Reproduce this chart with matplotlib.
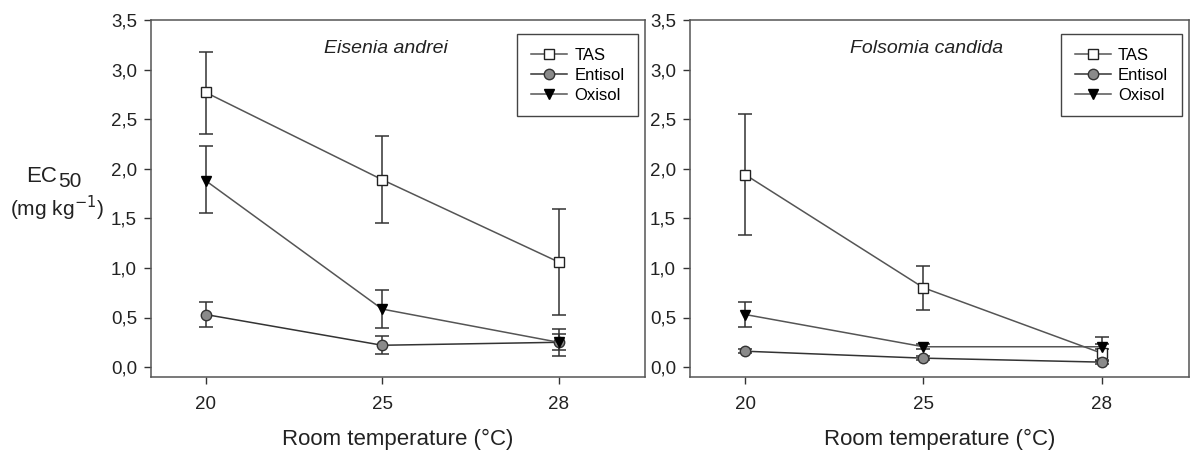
import numpy as np
import matplotlib.pyplot as plt
from matplotlib.ticker import FuncFormatter

plt.rcParams['font.family'] = ['Liberation Sans', 'DejaVu Sans']

temps = ["20", "25", "28"]
series = ["TAS", "Entisol", "Oxisol"]

# EC50 with lower / upper confidence limits, per species and soil
ea_tas = [2.77, 1.89, 1.06]
ea_tas_lo = [2.35, 1.45, 0.53]
ea_tas_hi = [3.18, 2.33, 1.59]
ea_ent = [0.53, 0.22, 0.25]
ea_ent_lo = [0.40, 0.13, 0.17]
ea_ent_hi = [0.66, 0.31, 0.33]
ea_oxi = [1.88, 0.585, 0.25]
ea_oxi_lo = [1.55, 0.39, 0.11]
ea_oxi_hi = [2.23, 0.78, 0.38]

fc_tas = [1.94, 0.80, 0.14]
fc_tas_lo = [1.33, 0.58, 0.06]
fc_tas_hi = [2.55, 1.02, 0.30]
fc_ent = [0.16, 0.09, 0.05]
fc_ent_lo = [0.14, 0.07, 0.03]
fc_ent_hi = [0.18, 0.11, 0.07]
fc_oxi = [0.53, 0.205, 0.205]
fc_oxi_lo = [0.40, 0.18, 0.18]
fc_oxi_hi = [0.66, 0.23, 0.23]

panels = [
    ("Eisenia andrei",
     [(ea_tas, ea_tas_lo, ea_tas_hi), (ea_ent, ea_ent_lo, ea_ent_hi), (ea_oxi, ea_oxi_lo, ea_oxi_hi)]),
    ("Folsomia candida",
     [(fc_tas, fc_tas_lo, fc_tas_hi), (fc_ent, fc_ent_lo, fc_ent_hi), (fc_oxi, fc_oxi_lo, fc_oxi_hi)]),
]

styles = [
    dict(marker="s", mfc="white", mec="#222222", ms=6.5, color="#555555"),
    dict(marker="o", mfc="#8a8a8a", mec="#333333", ms=7.5, color="#333333"),
    dict(marker="v", mfc="black", mec="black", ms=7.5, color="#555555"),
]

fig = plt.figure(figsize=(11.9, 4.53), dpi=100)
rects = [[151 / 1190, 76 / 453, 494 / 1190, 357 / 453],
         [690 / 1190, 76 / 453, 499 / 1190, 357 / 453]]

x = np.arange(len(temps))
comma = FuncFormatter(lambda v, p: f"{v:.1f}".replace(".", ","))

for rect, (title, data) in zip(rects, panels):
    ax = fig.add_axes(rect)
    for name, (vals, lo, hi), st in zip(series, data, styles):
        vals = np.array(vals)
        yerr = np.vstack([vals - np.array(lo), np.array(hi) - vals])
        ax.errorbar(x, vals, yerr=yerr, fmt="none", ecolor="#333333",
                    elinewidth=1.1, capsize=5, capthick=1.1, zorder=2)
        ax.plot(x, vals, lw=1.1, label=name, zorder=3,
                marker=st["marker"], mfc=st["mfc"], mec=st["mec"],
                ms=st["ms"], color=st["color"], mew=1.0)
    ax.set_xlim(-0.31, 2.49)
    ax.set_ylim(-0.1, 3.5)
    ax.set_xticks(x)
    ax.set_xticklabels(temps)
    ax.set_yticks(np.arange(0, 3.51, 0.5))
    ax.yaxis.set_major_formatter(comma)
    ax.tick_params(direction="out", length=5, width=1, colors="#333333",
                   labelsize=13.5, labelcolor="#222222", pad=5)
    ax.tick_params(axis="x", pad=9)
    for sp in ax.spines.values():
        sp.set_color("#555555")
        sp.set_linewidth(1.1)
    ax.set_xlabel("Room temperature (°C)", fontsize=16, labelpad=11, color="#222222")
    ax.text(0.475, 0.92, title, transform=ax.transAxes, style="italic",
            fontsize=14, ha="center", va="center", color="#222222")
    leg = ax.legend(loc="upper right", bbox_to_anchor=(0.985, 0.96),
                    borderaxespad=0, fancybox=False, fontsize=12,
                    handlelength=2.2, labelspacing=0.3, handletextpad=0.4,
                    borderpad=0.8, framealpha=1)
    leg.get_frame().set_edgecolor("#444444")
    leg.get_frame().set_linewidth(1.0)

# y-axis label: EC with a full-size, lowered "50"
fig.text(57 / 1190, 1 - 182 / 453, "EC", fontsize=16, ha="right",
         va="baseline", color="#222222")
fig.text(58 / 1190, 1 - 187 / 453, "50", fontsize=15, ha="left",
         va="baseline", color="#222222")
fig.text(57 / 1190, 1 - 208 / 453, r"(mg kg$^{-1}$)", fontsize=15, ha="center",
         va="center", color="#222222")

fig.savefig("out.png", dpi=100)
